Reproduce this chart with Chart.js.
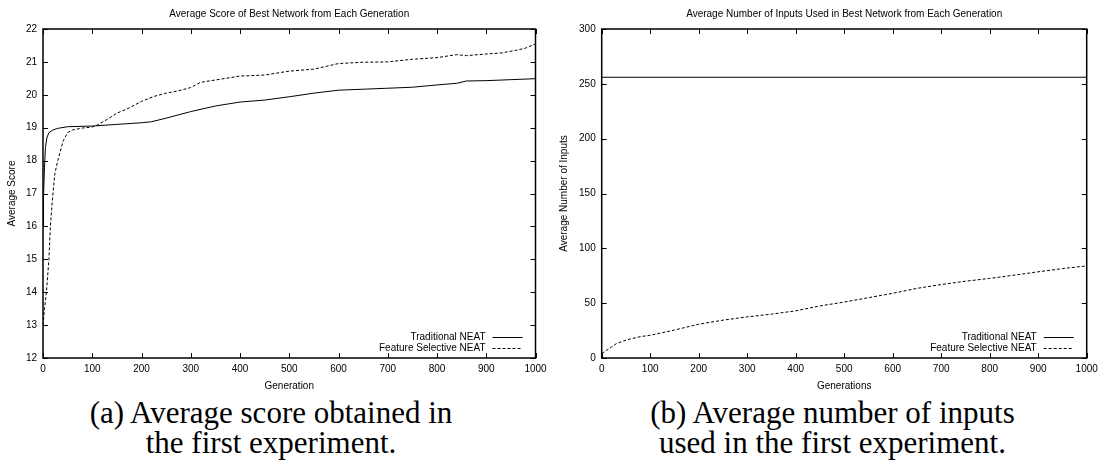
<!DOCTYPE html>
<html>
<head>
<meta charset="utf-8">
<script src="https://cdn.jsdelivr.net/npm/chart.js@4.4.0/dist/chart.umd.min.js"></script>
<style>
  html, body { margin: 0; padding: 0; background: #fff; }
  body { width: 1099px; height: 464px; position: relative; overflow: hidden; }
  .box { position: absolute; top: 0; height: 392px; }
  .caption { position: absolute; top: 398px; font-family: "Liberation Serif", "Times New Roman", serif; font-size: 31px; line-height: 30px; text-align: center; color: #000; white-space: nowrap; }
</style>
</head>
<body>
<div class="box" style="left:0;width:550px"><canvas id="scoreChart"></canvas></div>
<div class="box" style="left:550px;width:549px"><canvas id="inputsChart"></canvas></div>
<div class="caption" style="left:0;width:542px">(a) Average score obtained in<br>the first experiment.</div>
<div class="caption" style="left:550px;width:565px">(b) Average number of inputs<br>used in the first experiment.</div>
<script>
// data
const seriesNames = ['Traditional NEAT', 'Feature Selective NEAT'];
const genTicks = [0, 100, 200, 300, 400, 500, 600, 700, 800, 900, 1000];
const scoreTicks = [12, 13, 14, 15, 16, 17, 18, 19, 20, 21, 22];
const inputTicks = [0, 50, 100, 150, 200, 250, 300];

const scoreTradGen = [0, 1, 3, 5, 8, 12, 20, 30, 50, 100, 150, 200, 220, 250, 300, 350, 400, 450, 500, 550, 600, 650, 700, 750, 800, 840, 860, 900, 950, 1000];
const scoreTrad = [16.0, 16.9, 17.8, 18.4, 18.7, 18.85, 18.93, 18.98, 19.03, 19.05, 19.1, 19.15, 19.18, 19.29, 19.49, 19.66, 19.78, 19.84, 19.94, 20.05, 20.14, 20.17, 20.2, 20.23, 20.3, 20.35, 20.42, 20.43, 20.46, 20.49];

const scoreFsGen = [0, 3, 7, 12, 15, 19, 24, 30, 41, 50, 60, 80, 100, 110, 130, 150, 175, 200, 225, 250, 275, 300, 320, 350, 400, 450, 500, 550, 600, 650, 700, 750, 800, 840, 860, 900, 930, 960, 980, 1000];
const scoreFs = [13.0, 13.5, 14.0, 15.0, 16.0, 16.8, 17.6, 18.0, 18.6, 18.85, 18.93, 18.99, 19.02, 19.08, 19.25, 19.44, 19.6, 19.8, 19.95, 20.05, 20.12, 20.22, 20.38, 20.45, 20.57, 20.6, 20.72, 20.78, 20.95, 20.99, 21.0, 21.08, 21.13, 21.22, 21.19, 21.24, 21.27, 21.35, 21.42, 21.55];

const inputTradGen = [0, 1000];
const inputTrad = [256, 256];

const inputFsGen = [0, 10, 20, 30, 45, 60, 80, 100, 150, 200, 250, 300, 350, 400, 450, 500, 550, 600, 650, 700, 750, 800, 850, 900, 950, 1000];
const inputFs = [4, 7, 10, 13, 15.5, 17.5, 19.5, 20.7, 25.5, 30.8, 34.5, 37.5, 40, 43, 47.5, 51, 55, 59, 63.5, 67, 70, 72.6, 75.5, 78.6, 81.5, 84];

Chart.defaults.font.family = '"Liberation Sans", Arial, sans-serif';
Chart.defaults.font.size = 10;
Chart.defaults.color = '#000';

const pts = (xs, ys) => xs.map((x, i) => ({ x: x, y: ys[i] }));

// gnuplot-like frame, inward ticks and key inside the plot
const frameAndKey = {
  id: 'frameAndKey',
  afterDatasetsDraw(chart) {
    const { ctx, chartArea: a, scales } = chart;
    ctx.save();
    ctx.strokeStyle = '#000';
    ctx.lineWidth = 1;
    ctx.beginPath();
    scales.x.ticks.forEach(t => {
      const px = Math.round(scales.x.getPixelForValue(t.value)) + 0.5;
      ctx.moveTo(px, a.bottom); ctx.lineTo(px, a.bottom - 5);
      ctx.moveTo(px, a.top); ctx.lineTo(px, a.top + 5);
    });
    scales.y.ticks.forEach(t => {
      const py = Math.round(scales.y.getPixelForValue(t.value)) + 0.5;
      ctx.moveTo(a.left, py); ctx.lineTo(a.left + 5, py);
      ctx.moveTo(a.right, py); ctx.lineTo(a.right - 5, py);
    });
    ctx.stroke();
    ctx.lineWidth = 1.5;
    ctx.strokeRect(a.left, a.top, a.width, a.height);

    ctx.font = '10px "Liberation Sans", Arial, sans-serif';
    ctx.textAlign = 'right';
    ctx.textBaseline = 'middle';
    ctx.fillStyle = '#000';
    chart.data.datasets.forEach((ds, i) => {
      const y = Math.round(a.bottom - 21 + i * 11) + 0.5;
      ctx.fillText(ds.label, a.right - 50, y);
      ctx.lineWidth = 1;
      ctx.setLineDash(ds.borderDash || []);
      ctx.beginPath();
      ctx.moveTo(a.right - 43, y);
      ctx.lineTo(a.right - 13, y);
      ctx.stroke();
      ctx.setLineDash([]);
    });
    ctx.restore();
  }
};

function makeChart(id, opts) {
  return new Chart(document.getElementById(id), {
    type: 'line',
    data: {
      datasets: [
        { label: seriesNames[0], data: opts.trad, borderColor: '#000', borderWidth: 1, pointRadius: 0, tension: 0 },
        { label: seriesNames[1], data: opts.fs, borderColor: '#000', borderWidth: 1, borderDash: [3, 2], pointRadius: 0, tension: 0 }
      ]
    },
    options: {
      responsive: true,
      maintainAspectRatio: false,
      animation: false,
      layout: { padding: { left: 0, right: opts.padRight, top: 0, bottom: 0 } },
      plugins: { legend: { display: false }, tooltip: { enabled: false } },
      scales: {
        x: {
          type: 'linear', min: 0, max: 1000,
          afterBuildTicks: s => { s.ticks = genTicks.map(v => ({ value: v })); },
          afterFit: s => { s.paddingLeft = 0; s.paddingRight = 0; },
          ticks: { padding: 5, maxRotation: 0, callback: v => String(v) },
          grid: { display: false, drawTicks: false },
          border: { display: false },
          title: { display: true, text: opts.xTitle, padding: { top: 0, bottom: 0 } }
        },
        x2: {
          type: 'linear', position: 'top', min: 0, max: 1000,
          ticks: { display: false },
          grid: { display: false, drawTicks: false },
          border: { display: false },
          title: { display: true, text: opts.title, padding: { top: 8, bottom: 9 } }
        },
        y: {
          type: 'linear', min: opts.yTicks[0], max: opts.yTicks[opts.yTicks.length - 1],
          afterBuildTicks: s => { s.ticks = opts.yTicks.map(v => ({ value: v })); },
          afterFit: s => { s.width = opts.yWidth; },
          ticks: { padding: 6, callback: v => String(v) },
          grid: { display: false, drawTicks: false },
          border: { display: false },
          title: { display: true, text: opts.yTitle, padding: { top: opts.yTitlePad, bottom: 0 } }
        }
      }
    },
    plugins: [frameAndKey]
  });
}

makeChart('scoreChart', {
  trad: pts(scoreTradGen, scoreTrad),
  fs: pts(scoreFsGen, scoreFs),
  yTicks: scoreTicks,
  title: 'Average Score of Best Network from Each Generation',
  xTitle: 'Generation',
  yTitle: 'Average Score',
  yWidth: 43,
  yTitlePad: 6,
  padRight: 14.5
});

makeChart('inputsChart', {
  trad: pts(inputTradGen, inputTrad),
  fs: pts(inputFsGen, inputFs),
  yTicks: inputTicks,
  title: 'Average Number of Inputs Used in Best Network from Each Generation',
  xTitle: 'Generations',
  yTitle: 'Average Number of Inputs',
  yWidth: 51.7,
  yTitlePad: 8.5,
  padRight: 12.3
});
</script>
</body>
</html>
